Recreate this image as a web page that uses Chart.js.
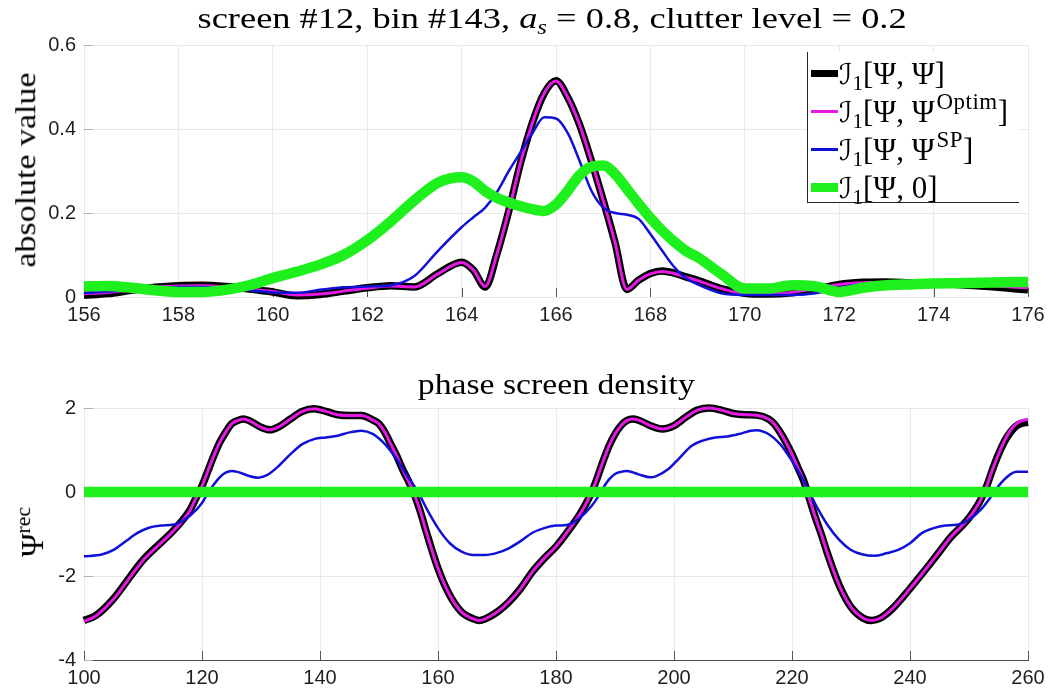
<!DOCTYPE html>
<html>
<head>
<meta charset="utf-8">
<script src="https://cdn.jsdelivr.net/npm/chart.js@4.4.0/dist/chart.umd.min.js"></script>
<style>
  html, body { margin: 0; padding: 0; background: #fff; }
  #wrap { position: relative; width: 1064px; height: 694px; overflow: hidden; background: #fff; }
  canvas { position: absolute; left: 0; }
  .tx { position: absolute; white-space: nowrap; font-family: "Liberation Serif", "DejaVu Serif", serif; color: #000; line-height: 1; }
  .tx sub, .tx sup { font-size: 0.68em; line-height: 0; }
  .tx sub { vertical-align: -0.28em; }
  .tx sup { vertical-align: 0.62em; }
  #legend { position: absolute; left: 807px; top: 52px; width: 211px; height: 150px;
            border-left: 1px solid #262626; border-bottom: 1px solid #262626; background: #fff; }
  .lrow { position: absolute; left: 3px; height: 38px; }
  .lline { position: absolute; left: 0; width: 27px; }
  .ltext { position: absolute; left: 28px; font-family: "Liberation Serif", "DejaVu Serif", serif; font-size: 31px; white-space: nowrap; line-height: 1; }
  .ltext sup { font-size: 0.74em; vertical-align: 0.55em; line-height: 0; margin-left: 2px; letter-spacing: 0.5px; }
  .ltext sub { font-size: 0.68em; vertical-align: -0.3em; line-height: 0; }
  .cal { font-family: "DejaVu Serif", "DejaVu Sans", serif; font-size: 0.92em; }
</style>
</head>
<body>
<div id="wrap">
  <canvas id="topChart" width="1064" height="340" style="top:0"></canvas>
  <canvas id="bottomChart" width="1064" height="354" style="top:340px"></canvas>

  <div class="tx" id="titleTop" style="font-size:30px;">screen #12, bin #143, <i>a<sub>s</sub></i> = 0.8, clutter level = 0.2</div>
  <div class="tx" id="titleBottom" style="font-size:30px;">phase screen density</div>
  <div class="tx" id="ylabTop" style="font-size:30px;">absolute value</div>
  <div class="tx" id="ylabBottom" style="font-size:32px;">&Psi;<sup>rec</sup></div>

  <div id="legend"></div>
</div>

<script>
// ---- top panel: |I_1| against x ----
const xTop = [156,156.5,157,157.5,158,158.5,159,159.5,160,160.5,
              161,161.5,162,162.5,163,163.5,164,164.25,164.5,164.75,
              165,165.25,165.5,165.75,166,166.25,166.5,166.75,167,167.25,
              167.5,167.75,168,168.25,168.5,168.75,169,169.5,170,170.5,
              171,171.5,172,172.5,173,173.5,174,174.5,175,175.5,176];

const absExact = [0.004,0.008,0.016,0.023,0.027,0.028,0.025,0.019,0.012,0.003,
                  0.006,0.014,0.022,0.027,0.024,0.056,0.083,0.064,0.024,0.103,
                  0.205,0.32,0.415,0.485,0.515,0.475,0.41,0.324,0.23,0.13,
                  0.018,0.04,0.056,0.062,0.057,0.048,0.04,0.02,0.009,0.007,
                  0.01,0.018,0.03,0.035,0.036,0.034,0.032,0.03,0.026,0.022,0.017];

const absOptim = [0.008,0.011,0.017,0.023,0.026,0.027,0.024,0.019,0.013,0.005,
                  0.007,0.014,0.021,0.026,0.024,0.055,0.082,0.064,0.025,0.103,
                  0.205,0.32,0.415,0.485,0.514,0.475,0.41,0.324,0.23,0.13,
                  0.018,0.04,0.055,0.061,0.056,0.047,0.039,0.02,0.008,0.007,
                  0.011,0.02,0.03,0.034,0.035,0.033,0.032,0.03,0.028,0.025,0.022];

const absSP = [0.01,0.013,0.018,0.022,0.024,0.024,0.021,0.016,0.011,0.01,
               0.017,0.023,0.025,0.028,0.05,0.11,0.166,0.19,0.213,0.25,
               0.3,0.345,0.39,0.428,0.425,0.39,0.324,0.253,0.213,0.2,
               0.196,0.186,0.15,0.11,0.072,0.045,0.03,0.009,0.005,0.005,
               0.005,0.009,0.022,0.031,0.034,0.034,0.033,0.032,0.031,0.03,0.029];

const absZero = [0.025,0.026,0.022,0.016,0.012,0.012,0.017,0.028,0.045,0.06,
                 0.077,0.1,0.135,0.18,0.23,0.272,0.285,0.275,0.252,0.236,
                 0.225,0.216,0.209,0.205,0.22,0.253,0.29,0.31,0.313,0.293,
                 0.258,0.222,0.188,0.158,0.132,0.11,0.095,0.055,0.02,0.02,
                 0.028,0.025,0.012,0.022,0.028,0.03,0.032,0.033,0.034,0.035,0.036];

const xTopTicks = [156,158,160,162,164,166,168,170,172,174,176];
const yTopTicks = [0, 0.2, 0.4, 0.6];
const yTopTickLabels = ['0', '0.2', '0.4', '0.6'];

// ---- bottom panel: reconstructed phase screen ----
const xPsi = [100,102,105,108,110,112,115,117,118,119,120,121,122,123,124,125,126,127,128,130,
              131.5,133,135,137,139,141,143,145,147,149,150,151,152,153,154,155,156,157,158,160,
              162,164,166,167,168,170,172,174,176,178,180,182,184,185,186,187,188,189,190,191,
              192,193,194,196,198,200,202,204,206,208,210,212,214,216,217,218,219,220,221,222,
              223,224,225,226,228,230,232,233.5,235,237,240,243,245,247,249,250,251,252,253,254,
              255,256,257,258,259,260];

const psiExact = [-3.06,-2.94,-2.54,-1.98,-1.62,-1.34,-0.94,-0.62,-0.42,-0.14,0.14,0.5,0.86,1.18,1.42,1.62,1.7,1.74,1.7,1.54,
                  1.48,1.55,1.74,1.92,1.98,1.92,1.84,1.82,1.82,1.71,1.62,1.42,1.14,0.86,0.54,0.26,-0.06,-0.46,-0.94,-1.82,
                  -2.46,-2.86,-3.02,-3.06,-3.02,-2.86,-2.62,-2.3,-1.9,-1.58,-1.3,-0.94,-0.54,-0.3,-0.02,0.34,0.74,1.1,1.38,1.58,
                  1.7,1.74,1.71,1.58,1.5,1.58,1.78,1.95,2.0,1.95,1.87,1.84,1.83,1.74,1.62,1.42,1.18,0.9,0.58,0.26,
                  -0.18,-0.62,-1.02,-1.46,-2.22,-2.74,-3.0,-3.06,-3.0,-2.78,-2.3,-1.78,-1.42,-1.06,-0.78,-0.62,-0.42,-0.18,0.14,0.54,
                  0.9,1.2,1.42,1.57,1.64,1.66];

const psiOptim = [-3.08,-2.95,-2.55,-1.99,-1.63,-1.35,-0.95,-0.63,-0.43,-0.14,0.14,0.5,0.86,1.18,1.42,1.62,1.7,1.74,1.7,1.54,
                  1.48,1.55,1.74,1.92,1.98,1.92,1.84,1.82,1.82,1.71,1.62,1.42,1.14,0.86,0.54,0.26,-0.06,-0.46,-0.94,-1.82,
                  -2.46,-2.86,-3.02,-3.06,-3.02,-2.86,-2.62,-2.3,-1.9,-1.58,-1.3,-0.94,-0.54,-0.3,-0.02,0.34,0.74,1.1,1.38,1.58,
                  1.7,1.74,1.71,1.58,1.5,1.58,1.78,1.95,2.0,1.95,1.87,1.84,1.83,1.74,1.62,1.42,1.18,0.9,0.58,0.26,
                  -0.18,-0.62,-1.02,-1.46,-2.22,-2.74,-3.0,-3.06,-3.0,-2.78,-2.3,-1.78,-1.42,-1.06,-0.78,-0.62,-0.42,-0.18,0.14,0.54,
                  0.9,1.22,1.46,1.62,1.7,1.73];

const xPsiSP = [100,103,105,107,109,111,113,115,116,118,120,121,122,123,124,125,126,128,129.5,131,
                133,135,137,139,141,143,145,147,149,151,153,155,156,157,158,160,162,164,166,168,
                170,172,174,176,178,180,182,184,186,187,188,189,190,191,192,194,196,197,199,201,
                203,205,207,209,211,213,214,216,218,220,222,224,226,228,230,232,234,236,238,240,
                242,244,246,248,250,252,254,255,256,257,258,260];

const psiSP = [-1.53,-1.49,-1.38,-1.18,-0.98,-0.85,-0.8,-0.78,-0.74,-0.56,-0.26,-0.02,0.18,0.35,0.46,0.5,0.48,0.38,0.34,0.4,
               0.62,0.9,1.14,1.26,1.3,1.34,1.42,1.46,1.38,1.14,0.78,0.34,0.14,-0.1,-0.38,-0.86,-1.22,-1.42,-1.5,-1.5,
               -1.45,-1.34,-1.17,-0.97,-0.86,-0.8,-0.78,-0.62,-0.34,-0.14,0.1,0.3,0.43,0.48,0.5,0.42,0.35,0.38,0.54,0.82,
               1.1,1.23,1.3,1.32,1.38,1.46,1.47,1.38,1.14,0.74,0.26,-0.3,-0.78,-1.14,-1.38,-1.49,-1.52,-1.46,-1.38,-1.22,
               -0.98,-0.86,-0.8,-0.78,-0.66,-0.42,-0.06,0.14,0.3,0.42,0.48,0.48];

const xPsiZero = [100, 260];
const psiZero = [0, 0];

const xBottomTicks = [100,120,140,160,180,200,220,240,260];
const yBottomTicks = [-4, -2, 0, 2];
const yBottomTickLabels = ['-4', '-2', '0', '2'];

// ---- legend entries ----
const legendLabels = [
  { color: '#000000', width: 7, html: '<span class="cal">&#x2110;</span><sub>1</sub>[&Psi;, &Psi;]' },
  { color: '#e619e6', width: 3, html: '<span class="cal">&#x2110;</span><sub>1</sub>[&Psi;, &Psi;<sup>Optim</sup>]' },
  { color: '#1010d8', width: 3, html: '<span class="cal">&#x2110;</span><sub>1</sub>[&Psi;, &Psi;<sup>SP</sup>]' },
  { color: '#1ef01e', width: 9, html: '<span class="cal">&#x2110;</span><sub>1</sub>[&Psi;, 0]' }
];

const COLORS = { exact: '#000000', optim: '#e619e6', sp: '#1010d8', zero: '#1ef01e' };

function zip(xs, ys) { return xs.map((x, i) => ({ x: x, y: ys[i] })); }

// tick marks drawn on the inside of the plot box, under the curves
const innerTicks = {
  id: 'innerTicks',
  beforeDatasetsDraw(chart) {
    const { ctx, chartArea, scales } = chart;
    ctx.save();
    ctx.lineWidth = 1;
    ctx.strokeStyle = '#555555';
    scales.x.ticks.forEach(t => {
      const px = Math.round(scales.x.getPixelForValue(t.value)) + 0.5;
      ctx.beginPath();
      ctx.moveTo(px, chartArea.bottom);
      ctx.lineTo(px, chartArea.bottom - 9);
      ctx.stroke();
    });
    ctx.strokeStyle = '#b0b0b0';
    scales.y.ticks.forEach(t => {
      const py = Math.round(scales.y.getPixelForValue(t.value)) + 0.5;
      ctx.beginPath();
      ctx.moveTo(chartArea.left, py);
      ctx.lineTo(chartArea.left + 9, py);
      ctx.stroke();
    });
    ctx.restore();
  }
};

function line(data, color, width, order) {
  return {
    data: data,
    borderColor: color,
    backgroundColor: color,
    borderWidth: width,
    pointRadius: 0,
    fill: false,
    clip: 8,
    cubicInterpolationMode: 'monotone',
    borderJoinStyle: 'round',
    borderCapStyle: 'butt',
    order: order
  };
}

function makeChart(canvasId, datasets, cfg) {
  return new Chart(document.getElementById(canvasId), {
    type: 'line',
    data: { datasets: datasets },
    options: {
      responsive: false,
      animation: false,
      events: [],
      layout: { padding: { left: 0, right: 36, top: cfg.padTop, bottom: 0 } },
      plugins: { legend: { display: false }, tooltip: { enabled: false }, title: { display: false } },
      scales: {
        x: {
          type: 'linear',
          min: cfg.xTicks[0],
          max: cfg.xTicks[cfg.xTicks.length - 1],
          afterBuildTicks: s => { s.ticks = cfg.xTicks.map(v => ({ value: v })); },
          afterFit: s => { s.height = cfg.xAxisHeight; },
          grid: { color: '#e9e9e9', lineWidth: 1, drawTicks: false },
          border: { display: cfg.xBorder, color: '#4d4d4d', width: 1 },
          ticks: {
            padding: 6,
            color: '#1f1f1f',
            font: { family: '"Liberation Sans", Arial, sans-serif', size: 20 },
            maxRotation: 0,
            autoSkip: false,
            callback: v => String(v)
          }
        },
        y: {
          type: 'linear',
          min: cfg.yTicks[0],
          max: cfg.yTicks[cfg.yTicks.length - 1],
          afterBuildTicks: s => { s.ticks = cfg.yTicks.map(v => ({ value: v })); },
          afterFit: s => { s.width = 84; },
          grid: { color: '#e9e9e9', lineWidth: 1, drawTicks: false },
          border: { display: false },
          ticks: {
            padding: 8,
            color: '#1f1f1f',
            font: { family: '"Liberation Sans", Arial, sans-serif', size: 20 },
            autoSkip: false,
            callback: v => cfg.yLabels[cfg.yTicks.indexOf(v)]
          }
        }
      }
    },
    plugins: [innerTicks]
  });
}

makeChart('topChart', [
  line(zip(xTop, absExact), COLORS.exact, 7.5, 4),
  line(zip(xTop, absOptim), COLORS.optim, 3, 3),
  line(zip(xTop, absSP), COLORS.sp, 2.5, 2),
  line(zip(xTop, absZero), COLORS.zero, 10.5, 1)
], { padTop: 45, xAxisHeight: 43, xTicks: xTopTicks, yTicks: yTopTicks, yLabels: yTopTickLabels, xBorder: false });

makeChart('bottomChart', [
  line(zip(xPsi, psiExact), COLORS.exact, 7.5, 4),
  line(zip(xPsi, psiOptim), COLORS.optim, 3, 3),
  line(zip(xPsiSP, psiSP), COLORS.sp, 2.5, 2),
  line(zip(xPsiZero, psiZero), COLORS.zero, 10.5, 1)
], { padTop: 68, xAxisHeight: 34, xTicks: xBottomTicks, yTicks: yBottomTicks, yLabels: yBottomTickLabels, xBorder: true });

// ---- legend ----
const legend = document.getElementById('legend');
legendLabels.forEach((item, i) => {
  const row = document.createElement('div');
  row.className = 'lrow';
  row.style.top = (2 + i * 38) + 'px';
  const ln = document.createElement('div');
  ln.className = 'lline';
  ln.style.background = item.color;
  ln.style.height = item.width + 'px';
  ln.style.top = (19 - item.width / 2) + 'px';
  const tx = document.createElement('div');
  tx.className = 'ltext';
  tx.style.top = '4px';
  tx.innerHTML = item.html;
  row.appendChild(ln);
  row.appendChild(tx);
  legend.appendChild(row);
});

// ---- titles and axis labels (stretched horizontally to the wider serif face) ----
function placeText(el, cx, top, targetWidth) {
  const w = el.getBoundingClientRect().width;
  const k = targetWidth / w;
  el.style.left = (cx - w / 2) + 'px';
  el.style.top = top + 'px';
  el.style.transformOrigin = '50% 50%';
  el.style.transform = 'scaleX(' + k.toFixed(3) + ')';
}
placeText(document.getElementById('titleTop'), 552, 3, 709);
placeText(document.getElementById('titleBottom'), 556, 369, 277);

function rotateLabel(el, cx, cy, targetLength) {
  const r = el.getBoundingClientRect();
  const k = targetLength ? targetLength / r.width : 1;
  el.style.left = (cx - r.width / 2) + 'px';
  el.style.top = (cy - r.height / 2) + 'px';
  el.style.transformOrigin = '50% 50%';
  el.style.transform = 'rotate(-90deg) scaleX(' + k.toFixed(3) + ')';
}
rotateLabel(document.getElementById('ylabTop'), 25, 170, 195);
rotateLabel(document.getElementById('ylabBottom'), 32, 532, 0);
</script>
</body>
</html>
